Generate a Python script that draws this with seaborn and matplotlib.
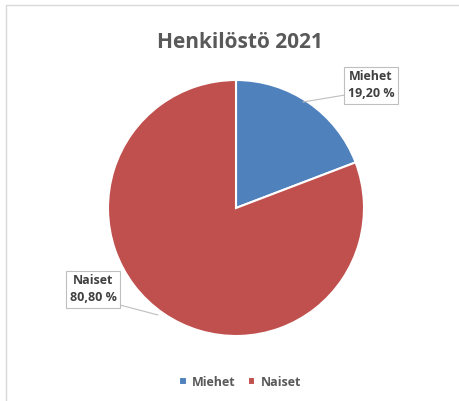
import matplotlib
matplotlib.use('Agg')
import matplotlib.pyplot as plt
import seaborn as sns
import numpy as np

# Data
categories = ['Miehet', 'Naiset']
shares = [19.20, 80.80]
title_text = 'Henkilöstö 2021'

colors = ['#4F81BD', '#C0504D']

sns.set_style("white")
plt.rcParams['font.family'] = ['Open Sans', 'DejaVu Sans']

W, H = 459, 401
fig = plt.figure(figsize=(W / 100, H / 100), dpi=100)

# pie area: centre (236, 208) px, radius 128 px
cx, cy, r = 236, 208, 128
ax = fig.add_axes([(cx - r) / W, (H - cy - r) / H, 2 * r / W, 2 * r / H])

wedges, _ = ax.pie(
    shares,
    colors=colors,
    startangle=90,
    counterclock=False,
    wedgeprops=dict(edgecolor='white', linewidth=1.5),
)
ax.set_xlim(-1, 1)
ax.set_ylim(-1, 1)
ax.set_aspect('equal')


def px(x, y):
    return ((x - cx) / r, (cy - y) / r)


# data labels with leader lines
label_pos = [px(371, 85), px(93, 289)]
line_end = [px(303, 102), px(158, 315)]
line_start = [px(345, 95), px(120, 305)]
for i, cat in enumerate(categories):
    txt = f"{cat}\n{shares[i]:.2f} %".replace('.', ',')
    ax.plot([line_start[i][0], line_end[i][0]], [line_start[i][1], line_end[i][1]],
            color='#BFBFBF', lw=0.8, clip_on=False)
    ax.text(label_pos[i][0], label_pos[i][1], txt, ha='center', va='center',
            fontsize=9, fontweight='bold', color='#404040', linespacing=1.35,
            bbox=dict(boxstyle='square,pad=0.3', fc='white', ec='#BFBFBF', lw=0.8),
            clip_on=False)

fig.text(240 / W, 1 - 42 / H, title_text, ha='center', va='center',
         fontsize=15, fontweight='bold', color='#595959')

# legend
leg = fig.legend(wedges, categories, loc='center', bbox_to_anchor=(240 / W, 1 - 382 / H),
                 ncol=2, frameon=False, handlelength=0.6, handleheight=0.6,
                 handletextpad=0.4, columnspacing=1.0,
                 prop=dict(size=9, weight='bold'))
for t in leg.get_texts():
    t.set_color('#595959')

# faint chart border at top and left
fig.add_artist(plt.Line2D([6 / W, 6 / W], [0, 1 - 5 / H], color='#D9D9D9', lw=1))
fig.add_artist(plt.Line2D([6 / W, 1], [1 - 5 / H, 1 - 5 / H], color='#D9D9D9', lw=1))

fig.savefig('out.png', dpi=100)
